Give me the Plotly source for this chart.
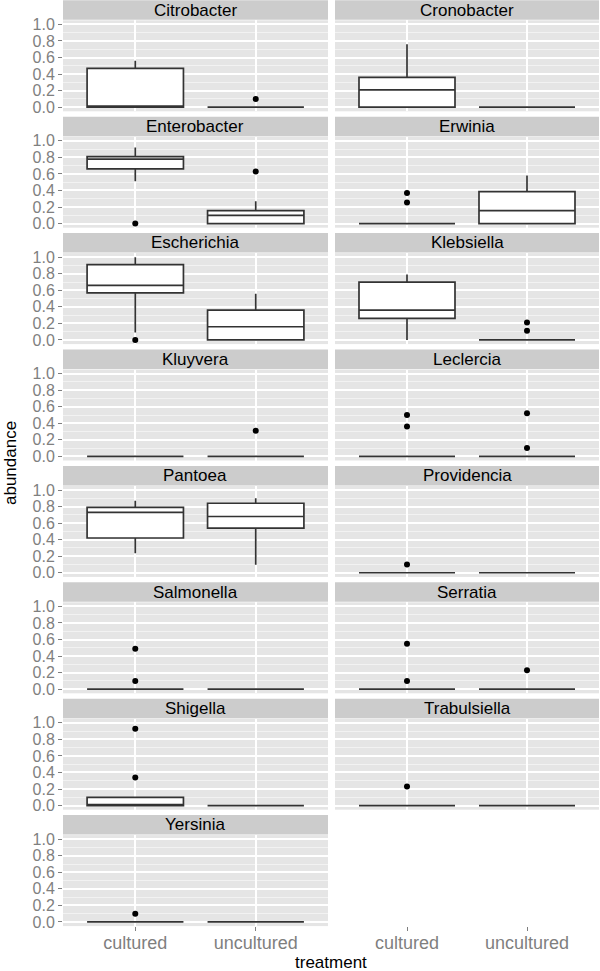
import plotly.graph_objects as go

# ---------------- data ----------------
genera = ["Citrobacter", "Cronobacter", "Enterobacter", "Erwinia", "Escherichia",
          "Klebsiella", "Kluyvera", "Leclercia", "Pantoea", "Providencia",
          "Salmonella", "Serratia", "Shigella", "Trabulsiella", "Yersinia"]
treatments = ["cultured", "uncultured"]

# box statistics: [cultured, uncultured] per genus
q1 = [[0, 0], [0, 0], [0.66, 0], [0, 0], [0.57, 0],
      [0.26, 0], [0, 0], [0, 0], [0.42, 0.54], [0, 0],
      [0, 0], [0, 0], [0, 0], [0, 0], [0, 0]]
median = [[0, 0], [0.21, 0], [0.78, 0.10], [0, 0.157], [0.66, 0.16],
          [0.36, 0], [0, 0], [0, 0], [0.73, 0.68], [0, 0],
          [0, 0], [0, 0], [0, 0], [0, 0], [0, 0]]
q3 = [[0.47, 0], [0.36, 0], [0.81, 0.157], [0, 0.387], [0.91, 0.36],
      [0.70, 0], [0, 0], [0, 0], [0.79, 0.84], [0, 0],
      [0, 0], [0, 0], [0.10, 0], [0, 0], [0, 0]]
lower = [[0, 0], [0, 0], [0.51, 0], [0, 0], [0.09, 0],
         [0, 0], [0, 0], [0, 0], [0.235, 0.097], [0, 0],
         [0, 0], [0, 0], [0, 0], [0, 0], [0, 0]]
upper = [[0.56, 0], [0.76, 0], [0.92, 0.27], [0, 0.58], [1.0, 0.56],
         [0.79, 0], [0, 0], [0, 0], [0.87, 0.90], [0, 0],
         [0, 0], [0, 0], [0.10, 0], [0, 0], [0, 0]]
outliers_cultured = [[], [], [0.0], [0.37, 0.255], [0.0],
                     [], [], [0.50, 0.36], [], [0.10],
                     [0.49, 0.10], [0.55, 0.10], [0.93, 0.34], [0.23], [0.10]]
outliers_uncultured = [[0.10], [], [0.63], [], [],
                       [0.21, 0.11], [0.31], [0.52, 0.10], [], [],
                       [], [0.23], [], [], []]

y_ticks = [0.0, 0.2, 0.4, 0.6, 0.8, 1.0]

# ---------------- layout geometry ----------------
W, H = 600, 971
col_x = [(63, 328), (335, 599)]
pitch = 116.4
strip_h = 19.5
panel_h = 91.0
n_rows = 8


def py(p):
    return 1 - p / H


fig = go.Figure()
layout = dict(
    width=W, height=H,
    margin=dict(l=0, r=0, t=0, b=0, autoexpand=False),
    paper_bgcolor="white",
    plot_bgcolor="#E5E5E5",
    showlegend=False,
    font=dict(family="Liberation Sans, Arial, sans-serif"),
)
shapes = []
annotations = []

xpos = [1, 2]
last_in_col = {0: 14, 1: 13}
bottom_px = 0.3 + (n_rows - 1) * pitch + 20 + panel_h

for i, g in enumerate(genera):
    r, c = divmod(i, 2)
    k = i + 1
    st = 0.3 + r * pitch
    ptop = st + 20
    pbot = ptop + panel_h
    x0, x1 = col_x[c]
    xn = "xaxis" if k == 1 else f"xaxis{k}"
    yn = "yaxis" if k == 1 else f"yaxis{k}"
    xref = "x" if k == 1 else f"x{k}"
    yref = "y" if k == 1 else f"y{k}"

    show_x = (i == last_in_col[c])
    xa = dict(
        domain=[x0 / W, x1 / W], range=[0.4, 2.6],
        tickvals=xpos, ticktext=treatments,
        showticklabels=show_x, ticks="outside" if show_x else "",
        ticklen=4, tickcolor="#7F7F7F", tickwidth=1,
        tickfont=dict(size=18, color="#7F7F7F"),
        ticklabelstandoff=-4,
        showgrid=True, gridcolor="white", gridwidth=1.6,
        zeroline=False, showline=False, automargin=False,
        anchor=yref,
    )
    if show_x and c == 1:
        xa["anchor"] = "free"
        xa["position"] = py(bottom_px)
    layout[xn] = xa

    layout[yn] = dict(
        domain=[py(pbot), py(ptop)], range=[-0.05, 1.05],
        tickvals=y_ticks, tickformat=".1f",
        showticklabels=(c == 0), ticks="outside" if c == 0 else "",
        ticklen=4, tickcolor="#7F7F7F", tickwidth=1,
        tickfont=dict(size=16, color="#7F7F7F"),
        showgrid=True, gridcolor="white", gridwidth=1.6,
        minor=dict(tickvals=[0.1, 0.3, 0.5, 0.7, 0.9], showgrid=True,
                   gridcolor="#F2F2F2", gridwidth=0.8, ticks=""),
        zeroline=False, showline=False, automargin=False,
        anchor=xref,
    )

    # strip
    shapes.append(dict(type="rect", xref="paper", yref="paper",
                       x0=x0 / W, x1=x1 / W, y0=py(st + strip_h), y1=py(st),
                       fillcolor="#CCCCCC", line=dict(width=0), layer="below"))
    annotations.append(dict(text=g, xref="paper", yref="paper",
                            x=(x0 + x1) / 2 / W, y=py(st + strip_h / 2),
                            xanchor="center", yanchor="middle", showarrow=False,
                            font=dict(size=17, color="black")))

    fig.add_trace(go.Box(
        x=xpos, q1=q1[i], median=median[i], q3=q3[i],
        lowerfence=lower[i], upperfence=upper[i],
        width=0.8, whiskerwidth=0, boxpoints=False,
        fillcolor="white", line=dict(color="#333333", width=1.7),
        xaxis=xref, yaxis=yref, hoverinfo="skip",
    ))
    ox = [xpos[0]] * len(outliers_cultured[i]) + [xpos[1]] * len(outliers_uncultured[i])
    oy = outliers_cultured[i] + outliers_uncultured[i]
    if oy:
        fig.add_trace(go.Scatter(
            x=ox, y=oy, mode="markers",
            marker=dict(color="black", size=6),
            xaxis=xref, yaxis=yref, hoverinfo="skip",
        ))

annotations.append(dict(text="abundance", xref="paper", yref="paper",
                        x=10 / W, y=py(463), textangle=-90,
                        xanchor="center", yanchor="middle", showarrow=False,
                        font=dict(size=17, color="black")))
annotations.append(dict(text="treatment", xref="paper", yref="paper",
                        x=331 / W, y=py(962),
                        xanchor="center", yanchor="middle", showarrow=False,
                        font=dict(size=17, color="black")))

layout["shapes"] = shapes
layout["annotations"] = annotations
fig.update_layout(**layout)

fig.write_html(
    "out.html",
    config={"displayModeBar": False},
    post_script="document.body.style.margin='0';document.body.style.overflow='hidden';",
)
